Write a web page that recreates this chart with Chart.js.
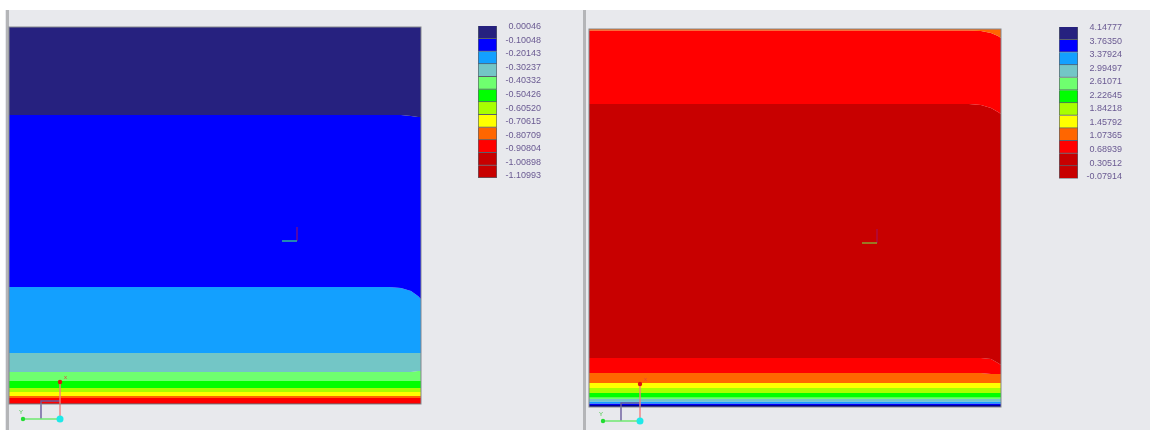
<!DOCTYPE html>
<html>
<head>
<meta charset="utf-8">
<title>Contour plots</title>
<script src="https://cdn.jsdelivr.net/npm/chart.js@4/dist/chart.umd.min.js"></script>
<style>
  html, body { margin: 0; padding: 0; background: #fff; width: 1155px; height: 430px; overflow: hidden; }
  .chrome { position: absolute; }
  canvas { position: absolute; filter: blur(0.6px); }
</style>
</head>
<body>
<div class="chrome" style="left:5px;top:10px;width:1145px;height:420px;background:#e8e9ed"></div>
<div class="chrome" style="left:6px;top:10px;width:3px;height:420px;background:#b4b5b8"></div>
<div class="chrome" style="left:583px;top:10px;width:3px;height:420px;background:#b4b5b8"></div>
<canvas id="plateLeft" style="left:0;top:10px" width="470" height="420"></canvas>
<canvas id="legendLeft" style="left:470px;top:10px" width="75" height="180"></canvas>
<canvas id="plateRight" style="left:580px;top:10px" width="470" height="420"></canvas>
<canvas id="legendRight" style="left:1050px;top:10px" width="76" height="180"></canvas>
<script>
// Legend values
const legendValuesLeft = [0.00046, -0.10048, -0.20143, -0.30237, -0.40332, -0.50426, -0.6052, -0.70615, -0.80709, -0.90804, -1.00898, -1.10993];
const legendValuesRight = [4.14777, 3.7635, 3.37924, 2.99497, 2.61071, 2.22645, 1.84218, 1.45792, 1.07365, 0.68939, 0.30512, -0.07914];
const legendCells = [1, 1, 1, 1, 1, 1, 1, 1, 1, 1, 1, 1];
const legendColors = ['#26217f', '#0000ff', '#13a0ff', '#73c6c6', '#6fff6f', '#00ff00', '#a8ff00', '#ffff00', '#ff6600', '#ff0000', '#c80000', '#c80000'];

// Position across the plate where the contours were read
const plateX = [0, 380, 392, 402, 409, 412];

// Lower edge of each contour band, measured down from the top of the plate
const bandsLeft = [
  { color: '#26217f', edge: [88, 88, 88, 89, 90, 90] },
  { color: '#0000ff', edge: [260, 260, 261, 264, 269, 272] },
  { color: '#13a0ff', edge: [326, 326, 326, 326, 326, 326] },
  { color: '#73c6c6', edge: [345, 345, 345, 345, 344, 344] },
  { color: '#6fff6f', edge: [354, 354, 354, 354, 354, 354] },
  { color: '#00ff00', edge: [361, 361, 361, 361, 361, 361] },
  { color: '#a8ff00', edge: [365, 365, 365, 365, 365, 365] },
  { color: '#ffff00', edge: [369, 369, 369, 369, 369, 369] },
  { color: '#ff6600', edge: [371, 371, 371, 371, 371, 371] },
  { color: '#ff0000', edge: [376, 376, 376, 376, 376, 376] },
  { color: '#c80000', edge: [377, 377, 377, 377, 377, 377] }
];
const bandsRight = [
  { color: '#ff6600', edge: [1.5, 1.5, 2, 4, 7, 9] },
  { color: '#ff0000', edge: [75, 75, 76, 79, 83, 85] },
  { color: '#c80000', edge: [329, 329, 329, 330, 334, 336] },
  { color: '#ff0000', edge: [344, 344, 344, 345, 345, 345] },
  { color: '#ff6600', edge: [354, 354, 354, 354, 354, 354] },
  { color: '#ffff00', edge: [359, 359, 359, 359, 359, 359] },
  { color: '#a8ff00', edge: [364, 364, 364, 364, 364, 364] },
  { color: '#00ff00', edge: [368.5, 368.5, 368.5, 368.5, 368.5, 368.5] },
  { color: '#6fff6f', edge: [370, 370, 370, 370, 370, 370] },
  { color: '#73c6c6', edge: [372.5, 372.5, 372.5, 372.5, 372.5, 372.5] },
  { color: '#13a0ff', edge: [374.5, 374.5, 374.5, 374.5, 374.5, 374.5] },
  { color: '#0000ff', edge: [376, 376, 376, 376, 376, 376] },
  { color: '#00008c', edge: [378, 378, 378, 378, 378, 378] }
];

// Coordinate triads, in plate units
const triadLines = [
  { color: '#6fe86f', x: [14, 51], y: [392, 392] },
  { color: '#f08080', x: [51, 51], y: [392, 355] },
  { color: '#6a5a9c', x: [32, 32, 51], y: [392, 374, 374] }
];
const triadDots = [
  { color: '#1fe8e8', x: 51, y: 392, r: 3.5 },
  { color: '#22dd33', x: 14, y: 392, r: 2.2 },
  { color: '#dd1111', x: 51, y: 355, r: 2.2 }
];

// Draw a grey frame around the plate and the small axis letters
const plateFrame = {
  id: 'plateFrame',
  afterDatasetsDraw(chart) {
    const { ctx, scales } = chart;
    const height = chart.options.plateHeight;
    const left = scales.x.getPixelForValue(0);
    const right = scales.x.getPixelForValue(412);
    const top = scales.y.getPixelForValue(0);
    const bottom = scales.y.getPixelForValue(height);
    ctx.save();
    ctx.strokeStyle = '#83878d';
    ctx.lineWidth = 1;
    ctx.strokeRect(left, top, right - left, bottom - top);
    ctx.font = '6px "Liberation Sans"';
    ctx.fillStyle = '#e04040';
    ctx.fillText('x', scales.x.getPixelForValue(55), scales.y.getPixelForValue(352));
    ctx.fillStyle = '#44c844';
    ctx.fillText('Y', scales.x.getPixelForValue(10), scales.y.getPixelForValue(387));
    ctx.restore();
  }
};

function makePlate(id, bands, left, top, height, centreColor) {
  const datasets = [];
  bands.forEach((band, i) => {
    datasets.push({
      data: plateX.map((x, k) => ({ x: x, y: band.edge[k] })),
      backgroundColor: band.color,
      borderWidth: 0,
      pointRadius: 0,
      fill: i === 0 ? { value: 0 } : '-1',
      order: 5
    });
  });
  // lower left triad
  triadLines.forEach(t => {
    datasets.push({
      data: t.x.map((x, k) => ({ x: x, y: t.y[k] })),
      borderColor: t.color,
      borderWidth: 1.4,
      pointRadius: 0,
      fill: false,
      order: 2
    });
  });
  triadDots.forEach(d => {
    datasets.push({
      data: [{ x: d.x, y: d.y }],
      backgroundColor: d.color,
      pointRadius: d.r,
      borderWidth: 0,
      fill: false,
      order: 1
    });
  });
  // centre triad
  datasets.push({
    data: [{ x: 273, y: 214 }, { x: 288, y: 214 }],
    borderColor: centreColor,
    borderWidth: 1.5,
    pointRadius: 0,
    fill: false,
    order: 2
  });
  datasets.push({
    data: [{ x: 288, y: 214 }, { x: 288, y: 200 }],
    borderColor: '#a01060',
    borderWidth: 1,
    pointRadius: 0,
    fill: false,
    order: 2
  });

  new Chart(document.getElementById(id), {
    type: 'line',
    data: { datasets: datasets },
    options: {
      responsive: false,
      animation: false,
      events: [],
      plateHeight: height,
      layout: { autoPadding: false, padding: { left: left, right: 470 - left - 412, top: top, bottom: 0 } },
      plugins: { legend: { display: false }, tooltip: { enabled: false } },
      scales: {
        x: { type: 'linear', min: 0, max: 412, display: false },
        // the scale runs on past the plate so the triad under it still fits
        y: { type: 'linear', min: 0, max: 420 - top, reverse: true, display: false }
      }
    },
    plugins: [plateFrame]
  });
}

function makeLegend(id, values, axisMin, axisMax, left, top) {
  new Chart(document.getElementById(id), {
    type: 'bar',
    data: {
      labels: ['contour'],
      datasets: legendCells.map((c, i) => ({
        data: [c],
        backgroundColor: legendColors[i],
        borderColor: '#59606a',
        borderWidth: 1,
        barPercentage: 1,
        categoryPercentage: 1,
        yAxisID: 'y'
      }))
    },
    options: {
      responsive: false,
      animation: false,
      events: [],
      layout: { padding: { left: left, right: 4, top: top, bottom: 180 - top - 152 } },
      plugins: { legend: { display: false }, tooltip: { enabled: false } },
      scales: {
        x: { stacked: true, display: false },
        y: { stacked: true, display: false, min: 0, max: 12, reverse: true },
        y1: {
          position: 'right',
          min: axisMin,
          max: axisMax,
          grid: { display: false, drawTicks: false },
          border: { display: false },
          afterBuildTicks: scale => { scale.ticks = values.map(v => ({ value: v })); },
          afterFit: scale => { scale.width = 44; },
          ticks: {
            autoSkip: false,
            padding: 6,
            crossAlign: 'far',
            color: '#6a5a92',
            font: { family: '"Liberation Sans"', size: 9 },
            callback: v => v.toFixed(5)
          }
        }
      }
    }
  });
}

makePlate('plateLeft', bandsLeft, 9, 17, 377, '#2fb59a');
makePlate('plateRight', bandsRight, 9, 19, 378, '#8aa030');
makeLegend('legendLeft', legendValuesLeft, -1.125, 0.004, 8, 16);
makeLegend('legendRight', legendValuesRight, -0.135, 4.162, 9, 17);
</script>
</body>
</html>
